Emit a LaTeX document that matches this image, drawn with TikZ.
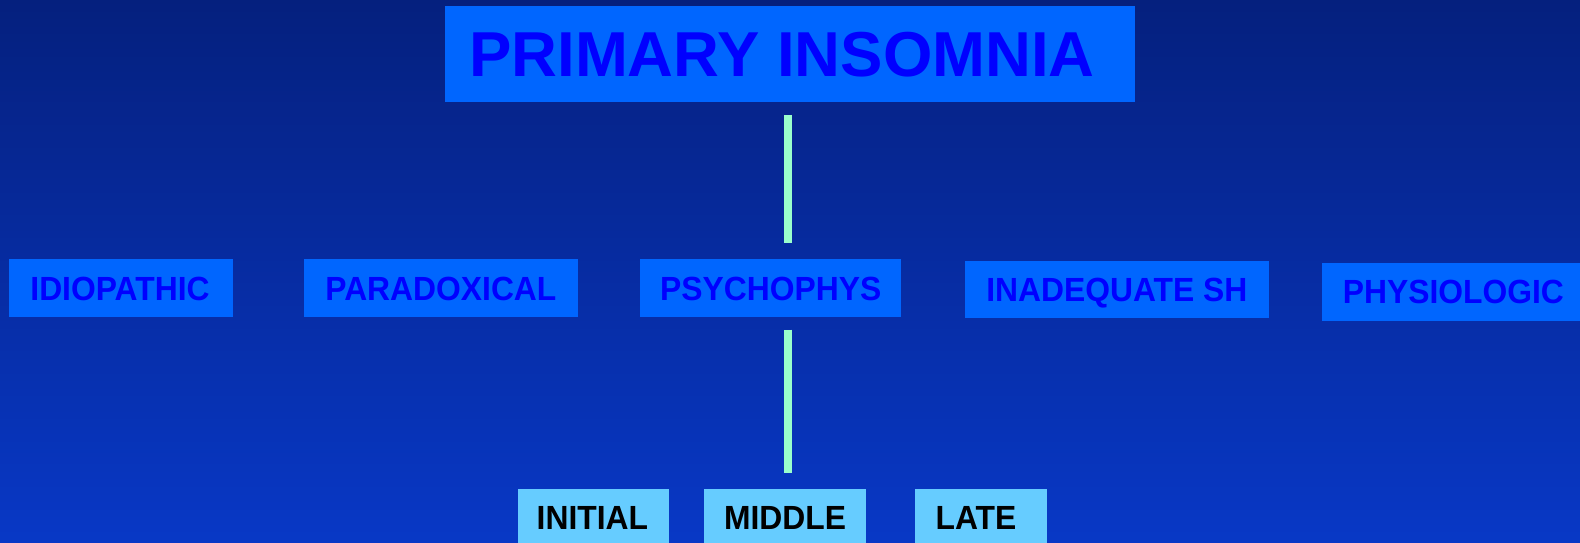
\documentclass[tikz,border=0pt]{standalone}
\usepackage{fontspec}
\setmainfont{Liberation Sans}
\newfontfamily\rowfont{Liberation Sans}[FakeStretch=0.95]
\definecolor{bgtop}{HTML}{05207E}
\definecolor{bgbot}{HTML}{0838C6}
\definecolor{boxblue}{HTML}{0066FF}
\definecolor{txtblue}{HTML}{0000FF}
\definecolor{lightbox}{HTML}{66CCFF}
\definecolor{connc}{HTML}{99FFCC}
\begin{document}
\begin{tikzpicture}[x=1pt,y=-1pt,
  topbox/.style={fill=boxblue, draw=none, inner sep=0pt, minimum height=95.7pt,
    text=txtblue, font=\fontsize{63.5}{70}\selectfont\bfseries, text height=46pt, text depth=0pt},
  rowbox/.style={fill=boxblue, draw=none, inner sep=0pt, minimum height=57.4pt,
    text=txtblue, font=\rowfont\fontsize{33.5}{36}\selectfont\bfseries, text height=24pt, text depth=0pt},
  subbox/.style={fill=lightbox, draw=none, inner sep=0pt, minimum height=57.4pt,
    text=black, font=\rowfont\fontsize{33.5}{36}\selectfont\bfseries, text height=24pt, text depth=0pt},
  conn/.style={draw=connc, line width=8pt}]
\useasboundingbox (0,0) rectangle (1580,543);
\clip (0,0) rectangle (1580,543);
\shade[top color=bgtop, bottom color=bgbot] (0,0) rectangle (1580,543);
\node[topbox, minimum width=689.6pt] (top) at (790,53.9) {PRIMARY INSOMNIA\kern16pt};
\node[rowbox, minimum width=223.5pt] (idio) at (121,288) {IDIOPATHIC\kern2pt};
\node[rowbox, minimum width=274pt] (para) at (440.9,288) {PARADOXICAL};
\node[rowbox, minimum width=260.9pt] (psy) at (770.7,288) {PSYCHOPHYS};
\node[rowbox, minimum width=304.2pt] (inad) at (1116.9,289.2) {INADEQUATE SH};
\node[rowbox, minimum width=262pt] (phys) at (1453.4,291.8) {PHYSIOLOGIC};
\node[subbox, minimum width=151pt] (ini) at (593.4,517.7) {INITIAL\kern2pt};
\node[subbox, minimum width=162.1pt] (mid) at (785,517.7) {MIDDLE};
\node[subbox, minimum width=132pt] (late) at (981,517.7) {LATE\kern10pt};
\coordinate (lx) at (787.5,0);
\draw[conn, shorten <=13pt, shorten >=16pt] (top.south -| lx) -- (psy.north -| lx);
\draw[conn, shorten <=12.6pt, shorten >=15.7pt] (psy.south -| lx) -- (mid.north -| lx);
\end{tikzpicture}
\end{document}
